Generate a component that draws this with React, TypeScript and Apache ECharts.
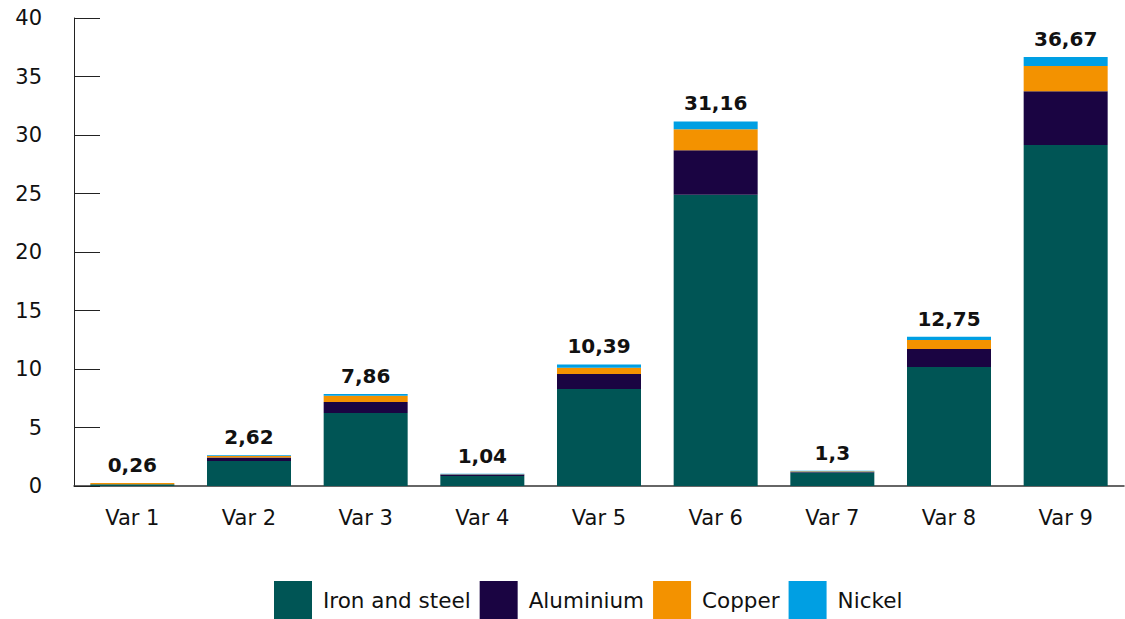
import React, { useEffect, useRef } from "react";
import * as echarts from "echarts";

const categories = ["Var 1", "Var 2", "Var 3", "Var 4", "Var 5", "Var 6", "Var 7", "Var 8", "Var 9"];
const ironSteel = [0.14, 2.14, 6.24, 0.85, 8.3, 24.9, 1.15, 10.17, 29.15];
const aluminium = [0.01, 0.3, 0.94, 0.13, 1.28, 3.8, 0.06, 1.53, 4.6];
const copper = [0.1, 0.12, 0.54, 0.02, 0.52, 1.8, 0.05, 0.78, 2.15];
const nickel = [0.01, 0.06, 0.14, 0.04, 0.29, 0.66, 0.04, 0.27, 0.77];
const yTicks = [0, 5, 10, 15, 20, 25, 30, 35, 40];

const FONT = "'DejaVu Sans', sans-serif";

export default function App() {
  const ref = useRef<HTMLDivElement>(null);
  useEffect(() => {
    if (!ref.current) return;
    const chart = echarts.init(ref.current, null, { renderer: "svg" });
    const totals = categories.map((_, i) => ironSteel[i] + aluminium[i] + copper[i] + nickel[i]);
    const fmt = (v: number) => String(Number(v.toFixed(2))).replace(".", ",");
    const mk = (name: string, data: number[], color: string, top = false) => ({
      name,
      type: "bar",
      stack: "total",
      data,
      barWidth: "72%",
      itemStyle: { color },
      label: top
        ? {
            show: true,
            position: "top",
            distance: 8,
            fontFamily: FONT,
            fontWeight: "bold",
            fontSize: 20,
            color: "#111",
            formatter: (p: any) => fmt(totals[p.dataIndex]),
          }
        : { show: false },
    });
    chart.setOption({
      animation: false,
      textStyle: { fontFamily: FONT },
      grid: { left: 74, right: 1, top: 18, bottom: 133 },
      legend: {
        bottom: 0,
        left: 274,
        padding: 0,
        itemWidth: 38,
        itemHeight: 38,
        itemGap: 9,
        icon: "rect",
        textStyle: { fontFamily: FONT, fontSize: 21.5, color: "#111", padding: [0, 0, 0, 6] },
        data: ["Iron and steel", "Aluminium", "Copper", "Nickel"],
      },
      xAxis: {
        type: "category",
        data: categories,
        axisLine: { lineStyle: { color: "#333", width: 1.5 } },
        axisTick: { inside: true, length: 13, lineStyle: { color: "#333" } },
        axisLabel: { fontFamily: FONT, fontSize: 21, color: "#111", margin: 21 },
      },
      yAxis: {
        type: "value",
        min: yTicks[0],
        max: yTicks[yTicks.length - 1],
        interval: 5,
        axisLine: { show: true, lineStyle: { color: "#222" } },
        axisTick: { show: true, inside: true, length: 26, lineStyle: { color: "#222" } },
        splitLine: { show: false },
        axisLabel: { fontFamily: FONT, fontSize: 21, color: "#111", margin: 32 },
      },
      series: [
        mk("Iron and steel", ironSteel, "#005555"),
        mk("Aluminium", aluminium, "#1a0442"),
        mk("Copper", copper, "#f39200"),
        mk("Nickel", nickel, "#009fe3", true),
      ],
    });
    return () => chart.dispose();
  }, []);
  return <div ref={ref} style={{ width: 1125, height: 619, position: "absolute", left: 0, top: 0 }} />;
}
